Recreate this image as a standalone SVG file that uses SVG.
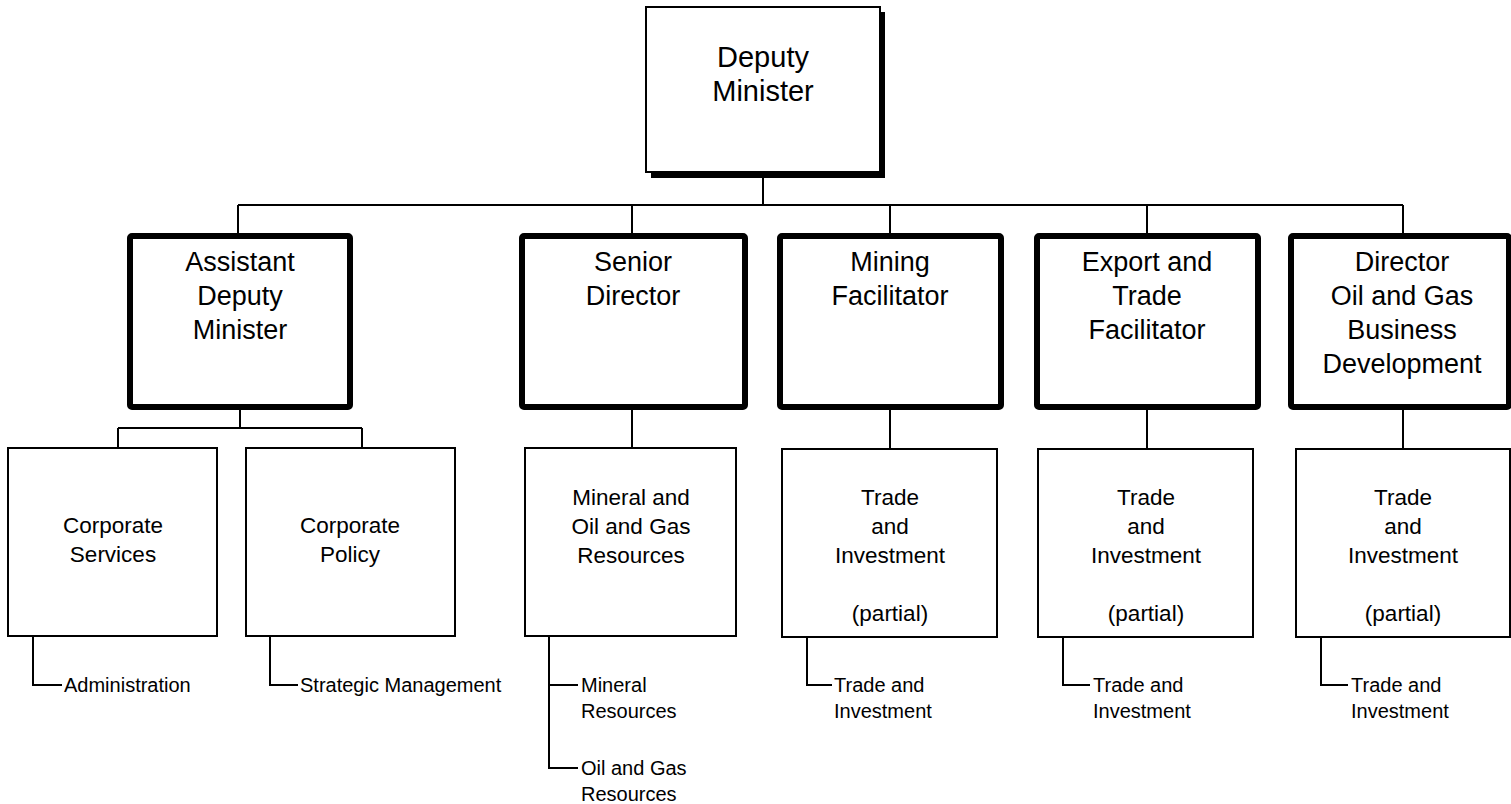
<svg xmlns="http://www.w3.org/2000/svg" width="1511" height="804" viewBox="0 0 1511 804">
<style>
text{font-family:"Liberation Sans",Arial,sans-serif;fill:#000;}
.t0{font-size:29px;text-anchor:middle;}
.t1{font-size:27px;text-anchor:middle;}
.t2{font-size:22.5px;text-anchor:middle;}
.t3{font-size:20px;}
.thin{fill:#fff;stroke:#000;stroke-width:2;}
.thick{fill:#fff;stroke:#000;stroke-width:6;}
.conn{fill:none;stroke:#000;stroke-width:2;}
</style>
<rect width="1511" height="804" fill="#fff"/>
<g id="connectors" class="conn">
<path d="M763 177V205M238 205H1403M238 205V234M632 205V234M890 205V234M1147 205V234M1403 205V234"/>
<path d="M240 410V428M118 428H362M118 428V448M362 428V448"/>
<path d="M632 410V448M890 410V448M1147 410V448M1403 410V448"/>
<path d="M33 636V685H62M270 636V685H298"/>
<path d="M549 636V768H578M549 685H578"/>
<path d="M807 637V685H832M1063 637V685H1090M1321 637V685H1348"/>
</g>
<g id="deputy-minister">
<rect x="651" y="12" width="234" height="166" fill="#000"/>
<rect x="646" y="7" width="234" height="165" class="thin"/>
<text class="t0" x="763" y="67">Deputy</text>
<text class="t0" x="763" y="101">Minister</text>
</g>
<g id="adm">
<rect x="130" y="236" width="220" height="171" rx="2" class="thick"/>
<text class="t1" x="240" y="271">Assistant</text>
<text class="t1" x="240" y="305">Deputy</text>
<text class="t1" x="240" y="339">Minister</text>
</g>
<g id="senior-director">
<rect x="522" y="236" width="223" height="171" rx="2" class="thick"/>
<text class="t1" x="633" y="271">Senior</text>
<text class="t1" x="633" y="305">Director</text>
</g>
<g id="mining-facilitator">
<rect x="780" y="236" width="221" height="171" rx="2" class="thick"/>
<text class="t1" x="890" y="271">Mining</text>
<text class="t1" x="890" y="305">Facilitator</text>
</g>
<g id="export-facilitator">
<rect x="1037" y="236" width="221" height="171" rx="2" class="thick"/>
<text class="t1" x="1147" y="271">Export and</text>
<text class="t1" x="1147" y="305">Trade</text>
<text class="t1" x="1147" y="339">Facilitator</text>
</g>
<g id="director-oil-gas">
<rect x="1291" y="236" width="218" height="171" rx="2" class="thick"/>
<text class="t1" x="1402" y="271">Director</text>
<text class="t1" x="1402" y="305">Oil and Gas</text>
<text class="t1" x="1402" y="339">Business</text>
<text class="t1" x="1402" y="373">Development</text>
</g>
<g id="corporate-services">
<rect x="8" y="448" width="209" height="188" class="thin"/>
<text class="t2" x="113" y="533">Corporate</text>
<text class="t2" x="113" y="562">Services</text>
</g>
<g id="corporate-policy">
<rect x="246" y="448" width="209" height="188" class="thin"/>
<text class="t2" x="350" y="533">Corporate</text>
<text class="t2" x="350" y="562">Policy</text>
</g>
<g id="mineral-oil-gas">
<rect x="525" y="448" width="211" height="188" class="thin"/>
<text class="t2" x="631" y="505">Mineral and</text>
<text class="t2" x="631" y="534">Oil and Gas</text>
<text class="t2" x="631" y="563">Resources</text>
</g>
<g id="trade-investment-1">
<rect x="782" y="449" width="215" height="188" class="thin"/>
<text class="t2" x="890" y="505">Trade</text>
<text class="t2" x="890" y="534">and</text>
<text class="t2" x="890" y="563">Investment</text>
<text class="t2" x="890" y="621">(partial)</text>
</g>
<g id="trade-investment-2">
<rect x="1038" y="449" width="215" height="188" class="thin"/>
<text class="t2" x="1146" y="505">Trade</text>
<text class="t2" x="1146" y="534">and</text>
<text class="t2" x="1146" y="563">Investment</text>
<text class="t2" x="1146" y="621">(partial)</text>
</g>
<g id="trade-investment-3">
<rect x="1296" y="449" width="214" height="188" class="thin"/>
<text class="t2" x="1403" y="505">Trade</text>
<text class="t2" x="1403" y="534">and</text>
<text class="t2" x="1403" y="563">Investment</text>
<text class="t2" x="1403" y="621">(partial)</text>
</g>
<g id="sub-administration"><text class="t3" x="64" y="692">Administration</text></g>
<g id="sub-strategic"><text class="t3" x="300" y="692">Strategic Management</text></g>
<g id="sub-mineral"><text class="t3" x="581" y="692">Mineral</text><text class="t3" x="581" y="718">Resources</text></g>
<g id="sub-oilgas"><text class="t3" x="581" y="775">Oil and Gas</text><text class="t3" x="581" y="801">Resources</text></g>
<g id="sub-trade-1"><text class="t3" x="834" y="692">Trade and</text><text class="t3" x="834" y="718">Investment</text></g>
<g id="sub-trade-2"><text class="t3" x="1093" y="692">Trade and</text><text class="t3" x="1093" y="718">Investment</text></g>
<g id="sub-trade-3"><text class="t3" x="1351" y="692">Trade and</text><text class="t3" x="1351" y="718">Investment</text></g>
</svg>
